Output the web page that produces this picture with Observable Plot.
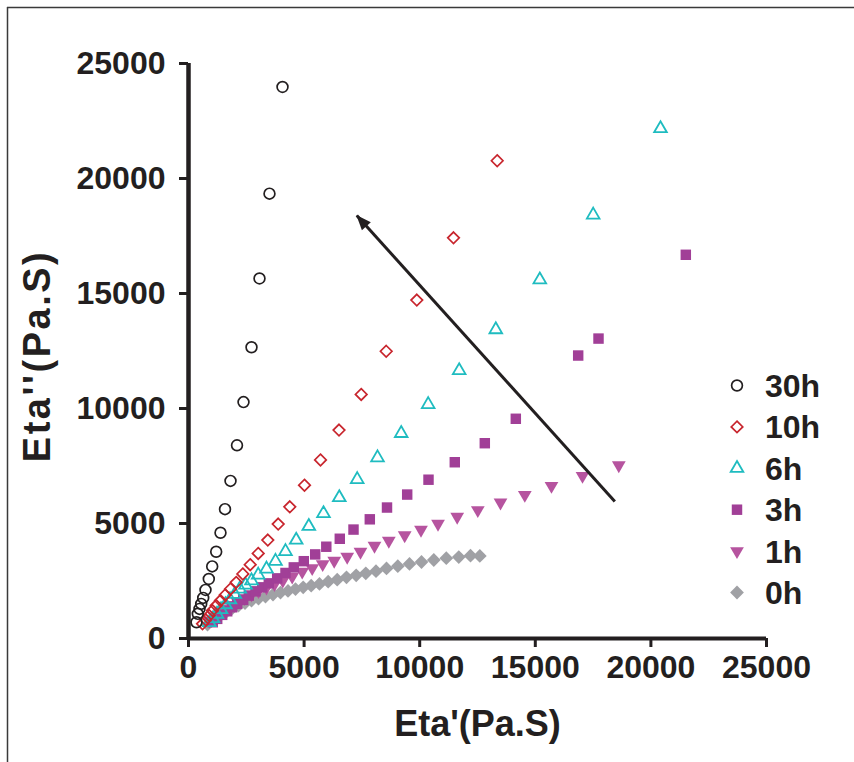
<!DOCTYPE html>
<html><head><meta charset="utf-8">
<script src="https://cdn.jsdelivr.net/npm/d3@7"></script>
<script src="https://cdn.jsdelivr.net/npm/@observablehq/plot@0.6"></script>
<style>
html,body{margin:0;padding:0;background:#fff;}
#chart svg{display:block;}
</style></head><body><div id="chart"></div>
<script>
// ---- data (Eta' , Eta'' in Pa.S) ----
const seriesNames = ["30h", "10h", "6h", "3h", "1h", "0h"];
const xTicks = [0, 5000, 10000, 15000, 20000, 25000];
const yTicks = [0, 5000, 10000, 15000, 20000, 25000];

const etaP_30h  = [346, 402, 476, 549, 636, 735, 878, 1025, 1198, 1384, 1579, 1817, 2098, 2379, 2725, 3071, 3503, 4066];
const etaPP_30h = [707, 1071, 1288, 1505, 1765, 2112, 2589, 3135, 3773, 4597, 5624, 6852, 8400, 10278, 12663, 15655, 19341, 23981];

const etaP_10h  = [606, 748, 895, 1038, 1198, 1384, 1587, 1817, 2063, 2349, 2669, 3015, 3430, 3880, 4381, 5017, 5709, 6510, 7470, 8551, 9875, 11462, 13352];
const etaPP_10h = [637, 811, 997, 1214, 1431, 1648, 1895, 2155, 2441, 2806, 3209, 3699, 4280, 4974, 5724, 6665, 7762, 9063, 10611, 12489, 14714, 17420, 20772];

const etaP_6h  = [908, 1060, 1233, 1406, 1600, 1795, 2003, 2219, 2465, 2725, 3015, 3374, 3763, 4195, 4658, 5203, 5839, 6522, 7297, 8175, 9200, 10367, 11708, 13291, 15195, 17504, 20415];
const etaPP_6h = [694, 867, 1062, 1258, 1474, 1691, 1921, 2155, 2329, 2515, 2762, 3023, 3361, 3786, 4280, 4879, 5434, 6128, 6917, 7862, 8920, 10178, 11652, 13430, 15598, 18417, 22173];

const etaP_3h  = [1051, 1241, 1458, 1674, 1890, 2106, 2366, 2608, 2898, 3188, 3473, 3836, 4195, 4554, 4987, 5480, 5960, 6544, 7137, 7842, 8586, 9459, 10381, 11518, 12816, 14157, 16855, 17734, 21510];
const etaPP_3h = [707, 854, 1028, 1184, 1357, 1505, 1678, 1865, 2051, 2225, 2398, 2615, 2849, 3092, 3361, 3656, 3990, 4337, 4736, 5182, 5694, 6258, 6904, 7663, 8491, 9553, 12303, 13040, 16683];

const etaP_1h  = [908, 1125, 1341, 1600, 1860, 2119, 2422, 2725, 3028, 3374, 3720, 4079, 4485, 4918, 5350, 5804, 6302, 6864, 7439, 8045, 8664, 9351, 10056, 10792, 11622, 12513, 13495, 14546, 15700, 17042, 18612];
const etaPP_1h = [781, 954, 1127, 1301, 1453, 1604, 1756, 1908, 2060, 2212, 2363, 2515, 2689, 2905, 3057, 3231, 3382, 3556, 3773, 4033, 4250, 4488, 4727, 4987, 5291, 5581, 5911, 6245, 6635, 7069, 7533];

const etaP_0h  = [822, 995, 1211, 1427, 1665, 1903, 2163, 2444, 2725, 3028, 3330, 3655, 3979, 4304, 4628, 4961, 5307, 5666, 6042, 6432, 6834, 7253, 7669, 8110, 8564, 9053, 9559, 10078, 10610, 11150, 11691, 12197, 12600];
const etaPP_0h = [607, 759, 911, 1062, 1193, 1323, 1431, 1539, 1648, 1735, 1821, 1908, 1995, 2068, 2147, 2225, 2298, 2372, 2472, 2559, 2658, 2745, 2832, 2927, 3044, 3144, 3244, 3326, 3413, 3491, 3543, 3599, 3590];

// arrow (trend indicator), in data units
const arrowFrom = [18440, 5960];
const arrowTo   = [7280, 18390];

// ---- styling ----
const FONT = "'Liberation Sans', Arial, Helvetica, sans-serif";
const styles = {
  "30h": {symbol: "circle",   r: 5.4, fill: "none",    stroke: "#231f20", sw: 1.7, rotate: 0},
  "10h": {symbol: "diamond2", r: 5.2, fill: "none",    stroke: "#c8252d", sw: 1.7, rotate: 0},
  "6h":  {symbol: "triangle", r: 4.7, fill: "none",    stroke: "#1fbcc0", sw: 1.8, rotate: 0},
  "3h":  {symbol: "square",   r: 5.9, fill: "#a13f97", stroke: "none",    sw: 0,   rotate: 0},
  "1h":  {symbol: "triangle", r: 5.1, fill: "#b6549f", stroke: "none",    sw: 0,   rotate: 180},
  "0h":  {symbol: "diamond2", r: 6.2, fill: "#a0a1a5", stroke: "none",    sw: 0,   rotate: 0}
};
const seriesData = {
  "30h": [etaP_30h, etaPP_30h], "10h": [etaP_10h, etaPP_10h], "6h": [etaP_6h, etaPP_6h],
  "3h": [etaP_3h, etaPP_3h], "1h": [etaP_1h, etaPP_1h], "0h": [etaP_0h, etaPP_0h]
};
function rows(name) {
  const [xs, ys] = seriesData[name];
  return xs.map((x, i) => ({x, y: ys[i], s: name}));
}
function dotMark(name) {
  const st = styles[name];
  return Plot.dot(rows(name), {x: "x", y: "y", symbol: st.symbol, r: st.r,
    fill: st.fill, stroke: st.stroke, strokeWidth: st.sw, rotate: st.rotate});
}
const drawOrder = ["0h", "1h", "3h", "6h", "10h", "30h"];

const plot = Plot.plot({
  width: 854, height: 762,
  marginLeft: 188, marginRight: 88, marginTop: 63, marginBottom: 124,
  x: {domain: [0, 25000]},
  y: {domain: [0, 25000]},
  style: {fontFamily: FONT, fontWeight: "bold", color: "#231f20", background: "#fff", overflow: "visible"},
  marks: [
    Plot.axisX({ticks: xTicks, tickFormat: d => String(d), tickSize: 9, tickPadding: 8,
      strokeWidth: 3, fontSize: 32, label: null}),
    Plot.axisY({ticks: yTicks, tickFormat: d => String(d), tickSize: 9, tickPadding: 14,
      strokeWidth: 3, fontSize: 32, label: null}),
    Plot.ruleY([0], {stroke: "#231f20", strokeWidth: 4}),
    Plot.ruleX([0], {stroke: "#231f20", strokeWidth: 4.5}),
    ...drawOrder.map(dotMark),
    Plot.link([{x1: arrowFrom[0], y1: arrowFrom[1], x2: arrowTo[0], y2: arrowTo[1]}],
      {x1: "x1", y1: "y1", x2: "x2", y2: "y2", stroke: "#231f20", strokeWidth: 3}),
    Plot.text(["Eta'(Pa.S)"], {frameAnchor: "bottom", dy: 86, lineAnchor: "middle", textAnchor: "middle",
      fontSize: 36, fontWeight: "bold", fill: "#231f20"}),
    Plot.text(["Eta''(Pa.S)"], {frameAnchor: "left", dx: -151, dy: 5, rotate: -90, textAnchor: "middle",
      lineAnchor: "middle", fontSize: 38, fontWeight: "bold", fill: "#231f20"})
  ]
});
document.getElementById("chart").append(plot);

// ---- decorations: filled arrowhead, legend, frame border ----
const svg = d3.select(plot);
svg.selectAll("text").filter(function() { return this.textContent === "Eta''(Pa.S)"; })
  .attr("letter-spacing", "2.5px");
const sx = plot.scale("x"), sy = plot.scale("y");
const tip = [sx.apply(arrowTo[0]), sy.apply(arrowTo[1])];
const tail = [sx.apply(arrowFrom[0]), sy.apply(arrowFrom[1])];
const ang = Math.atan2(tail[1] - tip[1], tail[0] - tip[0]);
const hl = 15, hw = 6;
const bx = tip[0] + hl * Math.cos(ang), by = tip[1] + hl * Math.sin(ang);
const px = -Math.sin(ang) * hw, py = Math.cos(ang) * hw;
svg.append("path")
  .attr("d", `M${tip[0]},${tip[1]}L${bx + px},${by + py}L${bx - px},${by - py}Z`)
  .attr("fill", "#231f20");

const symMap = {circle: d3.symbolCircle, diamond2: d3.symbolDiamond2, triangle: d3.symbolTriangle, square: d3.symbolSquare};
const leg = svg.append("g");
const legX = 737, legY0 = 385.5, legDy = 41.4;
seriesNames.forEach((name, i) => {
  const st = styles[name];
  const cy = legY0 + i * legDy;
  leg.append("path")
    .attr("d", d3.symbol(symMap[st.symbol], Math.PI * st.r * st.r)())
    .attr("transform", `translate(${legX},${cy}) rotate(${st.rotate})`)
    .attr("fill", st.fill).attr("stroke", st.stroke).attr("stroke-width", st.sw);
  leg.append("text").attr("x", 765).attr("y", cy + 11.5)
    .attr("text-anchor", "start")
    .attr("font-size", 32).attr("font-weight", "bold").attr("font-family", FONT)
    .attr("fill", "#231f20").text(name);
});

svg.append("line").attr("x1", 7).attr("x2", 854).attr("y1", 7.5).attr("y2", 7.5)
  .attr("stroke", "#3a3a3a").attr("stroke-width", 1.5);
svg.append("line").attr("x1", 7.5).attr("x2", 7.5).attr("y1", 7).attr("y2", 762)
  .attr("stroke", "#3a3a3a").attr("stroke-width", 1.5);
</script>
</body></html>
